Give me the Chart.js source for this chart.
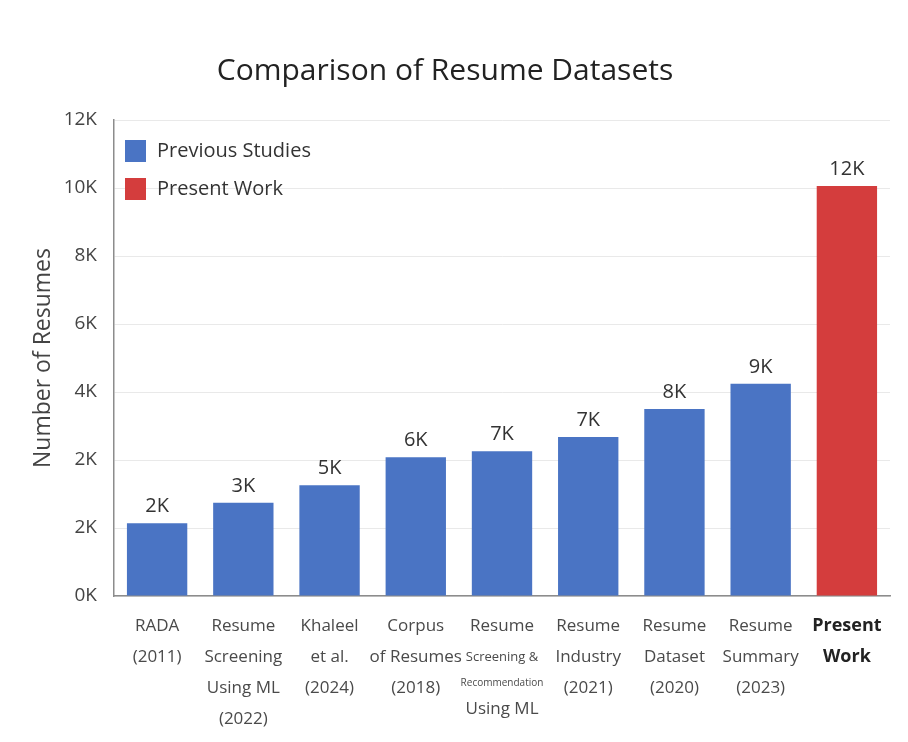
<!DOCTYPE html>
<html>
<head>
<meta charset="utf-8">
<script src="https://cdn.jsdelivr.net/npm/chart.js@4.4.1/dist/chart.umd.min.js"></script>
<style>
  html, body { margin: 0; padding: 0; background: #ffffff; }
  #wrap { width: 908px; height: 742px; position: relative; }
</style>
</head>
<body>
<div id="wrap"><canvas id="c" width="908" height="742"></canvas></div>
<script>
// ---- data ----
const categories = [
  ["RADA", "(2011)"],
  ["Resume", "Screening", "Using ML", "(2022)"],
  ["Khaleel", "et al.", "(2024)"],
  ["Corpus", "of Resumes", "(2018)"],
  ["Resume", "Screening &", "Recommendation", "Using ML"],
  ["Resume", "Industry", "(2021)"],
  ["Resume", "Dataset", "(2020)"],
  ["Resume", "Summary", "(2023)"],
  ["Present", "Work"]
];
// bar heights on the drawn grid (grid lines every 2 units)
const previousStudies = [2.14, 2.74, 3.26, 4.08, 4.26, 4.68, 5.5, 6.24, null];
const presentWork     = [null, null, null, null, null, null, null, null, 12.06];
const valueLabels = ["2K", "3K", "5K", "6K", "7K", "7K", "8K", "9K", "12K"];
const yTickLabels = ["0K", "2K", "2K", "4K", "6K", "8K", "10K", "12K"];
const seriesNames = ["Previous Studies", "Present Work"];
const chartTitle = "Comparison of Resume Datasets";
const yAxisTitle = "Number of Resumes";

// ---- styling ----
const FONT = "'Open Sans', 'Noto Sans', sans-serif";
const BLUE = "#4a74c4";
const RED = "#d43d3d";
const finePrint = { "Screening &": 13, "Recommendation": 10 };

const valueLabelPlugin = {
  id: 'valueLabels',
  afterDatasetsDraw(chart) {
    const ctx = chart.ctx;
    ctx.save();
    ctx.font = "20px " + FONT;
    ctx.fillStyle = "#333333";
    ctx.textAlign = "center";
    ctx.textBaseline = "bottom";
    chart.data.datasets.forEach((ds, di) => {
      const meta = chart.getDatasetMeta(di);
      meta.data.forEach((bar, i) => {
        if (ds.data[i] === null || ds.data[i] === undefined) return;
        ctx.fillText(valueLabels[i], bar.x, bar.y - 7);
      });
    });
    ctx.restore();
  }
};

const insideLegendPlugin = {
  id: 'insideLegend',
  afterDraw(chart) {
    const ctx = chart.ctx;
    const area = chart.chartArea;
    ctx.save();
    ctx.font = "20px " + FONT;
    ctx.textAlign = "left";
    ctx.textBaseline = "middle";
    chart.data.datasets.forEach((ds, di) => {
      const bx = area.left + 11;
      const by = area.top + 20 + di * 38;
      ctx.fillStyle = ds.backgroundColor;
      ctx.fillRect(bx, by, 21, 22);
      ctx.fillStyle = "#333333";
      ctx.fillText(ds.label, bx + 32, by + 11);
    });
    ctx.restore();
  }
};

const xLabelPlugin = {
  id: 'xLabels',
  afterDraw(chart) {
    const ctx = chart.ctx;
    const xs = chart.scales.x;
    const base = chart.chartArea.bottom;
    ctx.save();
    ctx.textAlign = "center";
    ctx.textBaseline = "middle";
    categories.forEach((lines, i) => {
      const x = xs.getPixelForValue(i);
      const last = i === categories.length - 1;
      let y = base + 30;
      let prevSmall = false;
      lines.forEach((t, k) => {
        const small = finePrint[t];
        if (k > 0) y += prevSmall ? 26 : 31;
        if (last) {
          ctx.font = "bold 18px " + FONT;
          ctx.fillStyle = "#222222";
        } else {
          ctx.font = (small ? small : 17) + "px " + FONT;
          ctx.fillStyle = "#4a4a4a";
        }
        ctx.fillText(t, x, y);
        prevSmall = !!small;
      });
    });
    ctx.restore();
  }
};

new Chart(document.getElementById('c'), {
  type: 'bar',
  data: {
    labels: categories,
    datasets: [
      { label: seriesNames[0], data: previousStudies, backgroundColor: BLUE, borderWidth: 0, grouped: false, barPercentage: 0.7, categoryPercentage: 1.0 },
      { label: seriesNames[1], data: presentWork, backgroundColor: RED, borderWidth: 0, grouped: false, barPercentage: 0.7, categoryPercentage: 1.0 }
    ]
  },
  options: {
    responsive: false,
    animation: false,
    devicePixelRatio: 1,
    layout: { padding: { left: 0, right: 18, top: 0, bottom: 0 } },
    plugins: {
      tooltip: { enabled: false },
      title: {
        display: true,
        text: chartTitle,
        color: "#222222",
        font: { family: FONT, size: 30, weight: 'normal' },
        padding: { top: 53, bottom: 31 }
      },
      legend: { display: false }
    },
    scales: {
      x: {
        grid: { display: false },
        border: { display: true, color: "#8c8c8c", width: 1.5 },
        ticks: { display: false },
        afterFit(scale) { scale.height = 146; }
      },
      y: {
        min: 0,
        max: 14,
        grid: { color: "#e9e9e9", lineWidth: 1, drawTicks: false },
        border: { display: true, color: "#8c8c8c", width: 1.5 },
        ticks: {
          stepSize: 2,
          padding: 17,
          color: "#444444",
          font: { family: FONT, size: 19 },
          callback: (v, idx) => yTickLabels[idx]
        },
        title: {
          display: true,
          text: yAxisTitle,
          color: "#444444",
          font: { family: FONT, size: 23 },
          padding: { top: 30, bottom: 0 }
        },
        afterFit(scale) { scale.width = 114; }
      }
    }
  },
  plugins: [valueLabelPlugin, insideLegendPlugin, xLabelPlugin]
});
</script>
</body>
</html>
